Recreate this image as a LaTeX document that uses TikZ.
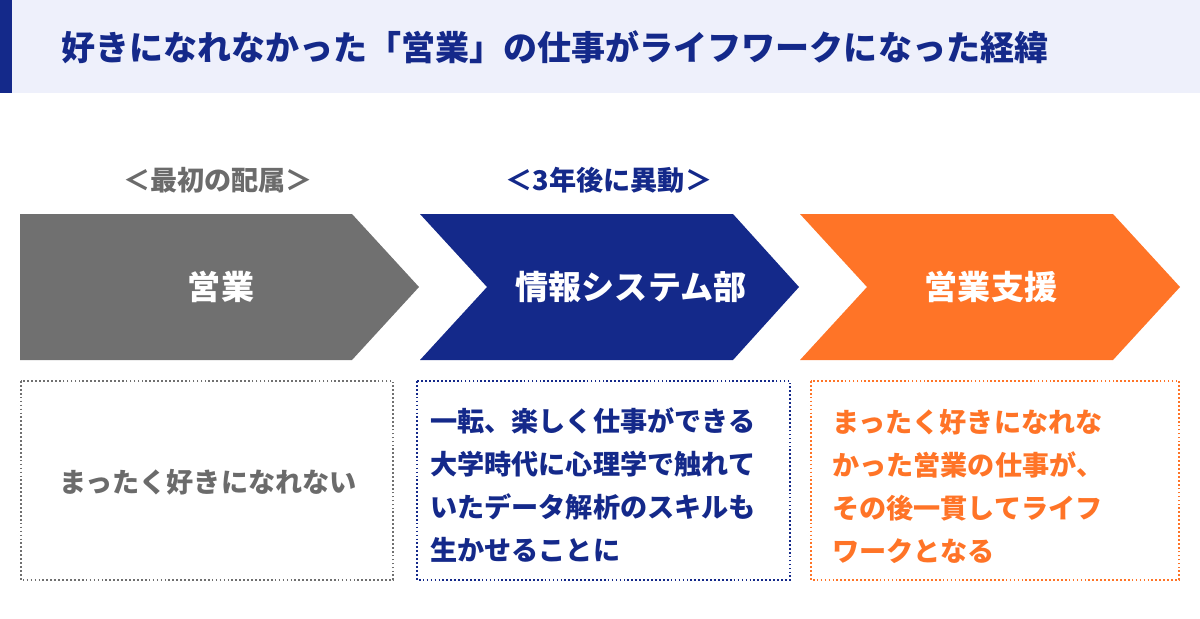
\documentclass[tikz,border=0pt]{standalone}
\usepackage{fontspec}
\newfontfamily\jp{Noto Sans CJK JP}
\usetikzlibrary{positioning}
\definecolor{navy}{HTML}{14298A}
\definecolor{stepgray}{HTML}{707070}
\definecolor{txtgray}{HTML}{6B6B6B}
\definecolor{orng}{HTML}{FF7427}
\definecolor{barbg}{HTML}{EEF0FB}
\tikzset{font=\jp\bfseries}
\tikzset{chevtext/.style={text=white, inner sep=0pt,
    font=\jp\bfseries\fontsize{23.5}{28}\selectfont}}
\tikzset{subhead/.style={inner sep=0pt,
    font=\jp\bfseries\fontsize{19.3}{22}\selectfont}}
\tikzset{boxtext/.style={align=left, inner sep=0pt,
    font=\jp\bfseries\fontsize{19.3}{30.6}\selectfont}}
\tikzset{dotbox/.style={line width=1.1pt, dash pattern=on 1.2pt off 1.6pt}}

\begin{document}
\begin{tikzpicture}[x=0.025cm,y=-0.025cm]
  \useasboundingbox (0,0) rectangle (1200,618);
  % title bar
  \fill[barbg] (0,0) rectangle (1200,93);
  \fill[navy] (0,0) rectangle (12,93);
  \node[anchor=west, inner sep=0pt, text=navy,
    font=\jp\bfseries\fontsize{24.2}{28}\selectfont] (title) at (61,47)
    {好きになれなかった「営業」の仕事がライフワークになった経緯};

  % headings above the steps
  \node[subhead, text=txtgray] (first) at (218,180) {＜最初の配属＞};
  \node[subhead, text=navy] (moved) at (609,180) {＜3年後に異動＞};

  % chevrons
  \fill[stepgray] (20,214) -- (352,214) -- (419,287) -- (352,360) -- (20,360) -- cycle;
  \fill[navy] (420,214) -- (733,214) -- (799,287) -- (733,360) -- (420,360)
    -- (487,287) -- cycle;
  \fill[orng] (800,214) -- (1113,214) -- (1180,287) -- (1113,360) -- (800,360)
    -- (867,287) -- cycle;
  \node[chevtext] (eigyo) at (221,287) {営業};
  \node[chevtext] (joho) at (631,287) {情報システム部};
  \node[chevtext] (shien) at (991,287) {営業支援};

  % dotted boxes
  \draw[dotbox, draw=stepgray] (21,381) rectangle (393,580);
  \draw[dotbox, draw=navy] (417,381) rectangle (790,580);
  \draw[dotbox, draw=orng] (811,381) rectangle (1179,580);
  \node[boxtext, text=txtgray] (never) at (208,482) {まったく好きになれない};
  \node[boxtext, text=navy, anchor=west] (turn) at (430,485)
    {一転、楽しく仕事ができる\\大学時代に心理学で触れて\\いたデータ解析のスキルも\\生かせることに};
  \node[boxtext, text=orng, anchor=west] (lifework) at (832,486)
    {まったく好きになれな\\かった営業の仕事が、\\その後一貫してライフ\\ワークとなる};
\end{tikzpicture}
\end{document}
